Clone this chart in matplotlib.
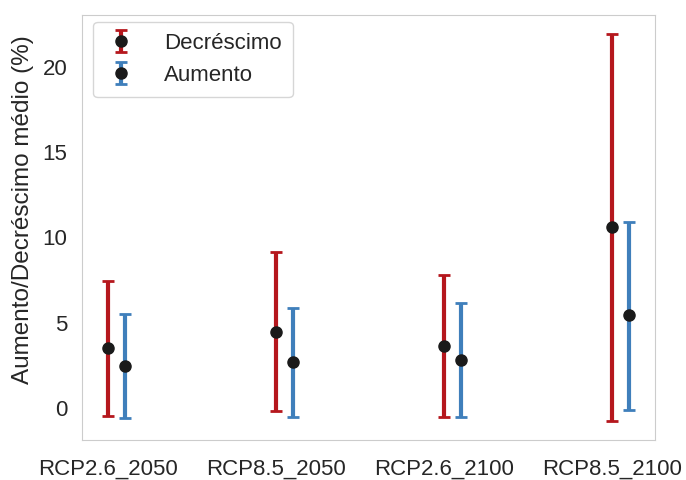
import numpy as np
import matplotlib.pyplot as plt
import seaborn as sns

sns.set_style("whitegrid")
plt.rcParams['font.family'] = ['Liberation Sans', 'DejaVu Sans']

cenarios = ["RCP2.6_2050", "RCP8.5_2050", "RCP2.6_2100", "RCP8.5_2100"]

# Decréscimo: média, limite inferior, limite superior
dec_media = [3.5, 4.45, 3.63, 10.58]
dec_min = [-0.47, -0.18, -0.53, -0.76]
dec_max = [7.43, 9.12, 7.78, 21.9]

# Aumento
aum_media = [2.46, 2.69, 2.8, 5.44]
aum_min = [-0.58, -0.53, -0.53, -0.12]
aum_max = [5.5, 5.85, 6.14, 10.9]

x = np.arange(len(cenarios))
dec_media = np.array(dec_media)
aum_media = np.array(aum_media)
dec_err = [dec_media - np.array(dec_min), np.array(dec_max) - dec_media]
aum_err = [aum_media - np.array(aum_min), np.array(aum_max) - aum_media]

fig, ax = plt.subplots(figsize=(6.86, 4.8), dpi=100)
ax.errorbar(x, dec_media, yerr=dec_err, fmt='o', color='#1a1a1a', ecolor='#b5171d',
            elinewidth=3, capsize=4.5, capthick=2, markersize=8, label='Decréscimo')
ax.errorbar(x + 0.1, aum_media, yerr=aum_err, fmt='o', color='#1a1a1a', ecolor='#3f7fbb',
            elinewidth=3, capsize=4.5, capthick=2, markersize=8, label='Aumento')

ax.grid(False)
ax.set_xticks(x)
ax.set_xticklabels(cenarios)
ax.tick_params(labelsize=16)
ax.tick_params(axis='x', pad=10)
ax.tick_params(axis='y', pad=7)
ax.set_ylabel("Aumento/Decréscimo médio (%)", fontsize=17.5)
ax.yaxis.set_label_coords(-0.084, 0.542)
ax.legend(fontsize=16, loc='upper left', bbox_to_anchor=(0.0, 1.01),
          borderpad=0.5, handletextpad=1.2, handlelength=1.5)

plt.subplots_adjust(left=0.1195, right=0.955, top=0.969, bottom=0.083)
plt.savefig("out.png")
